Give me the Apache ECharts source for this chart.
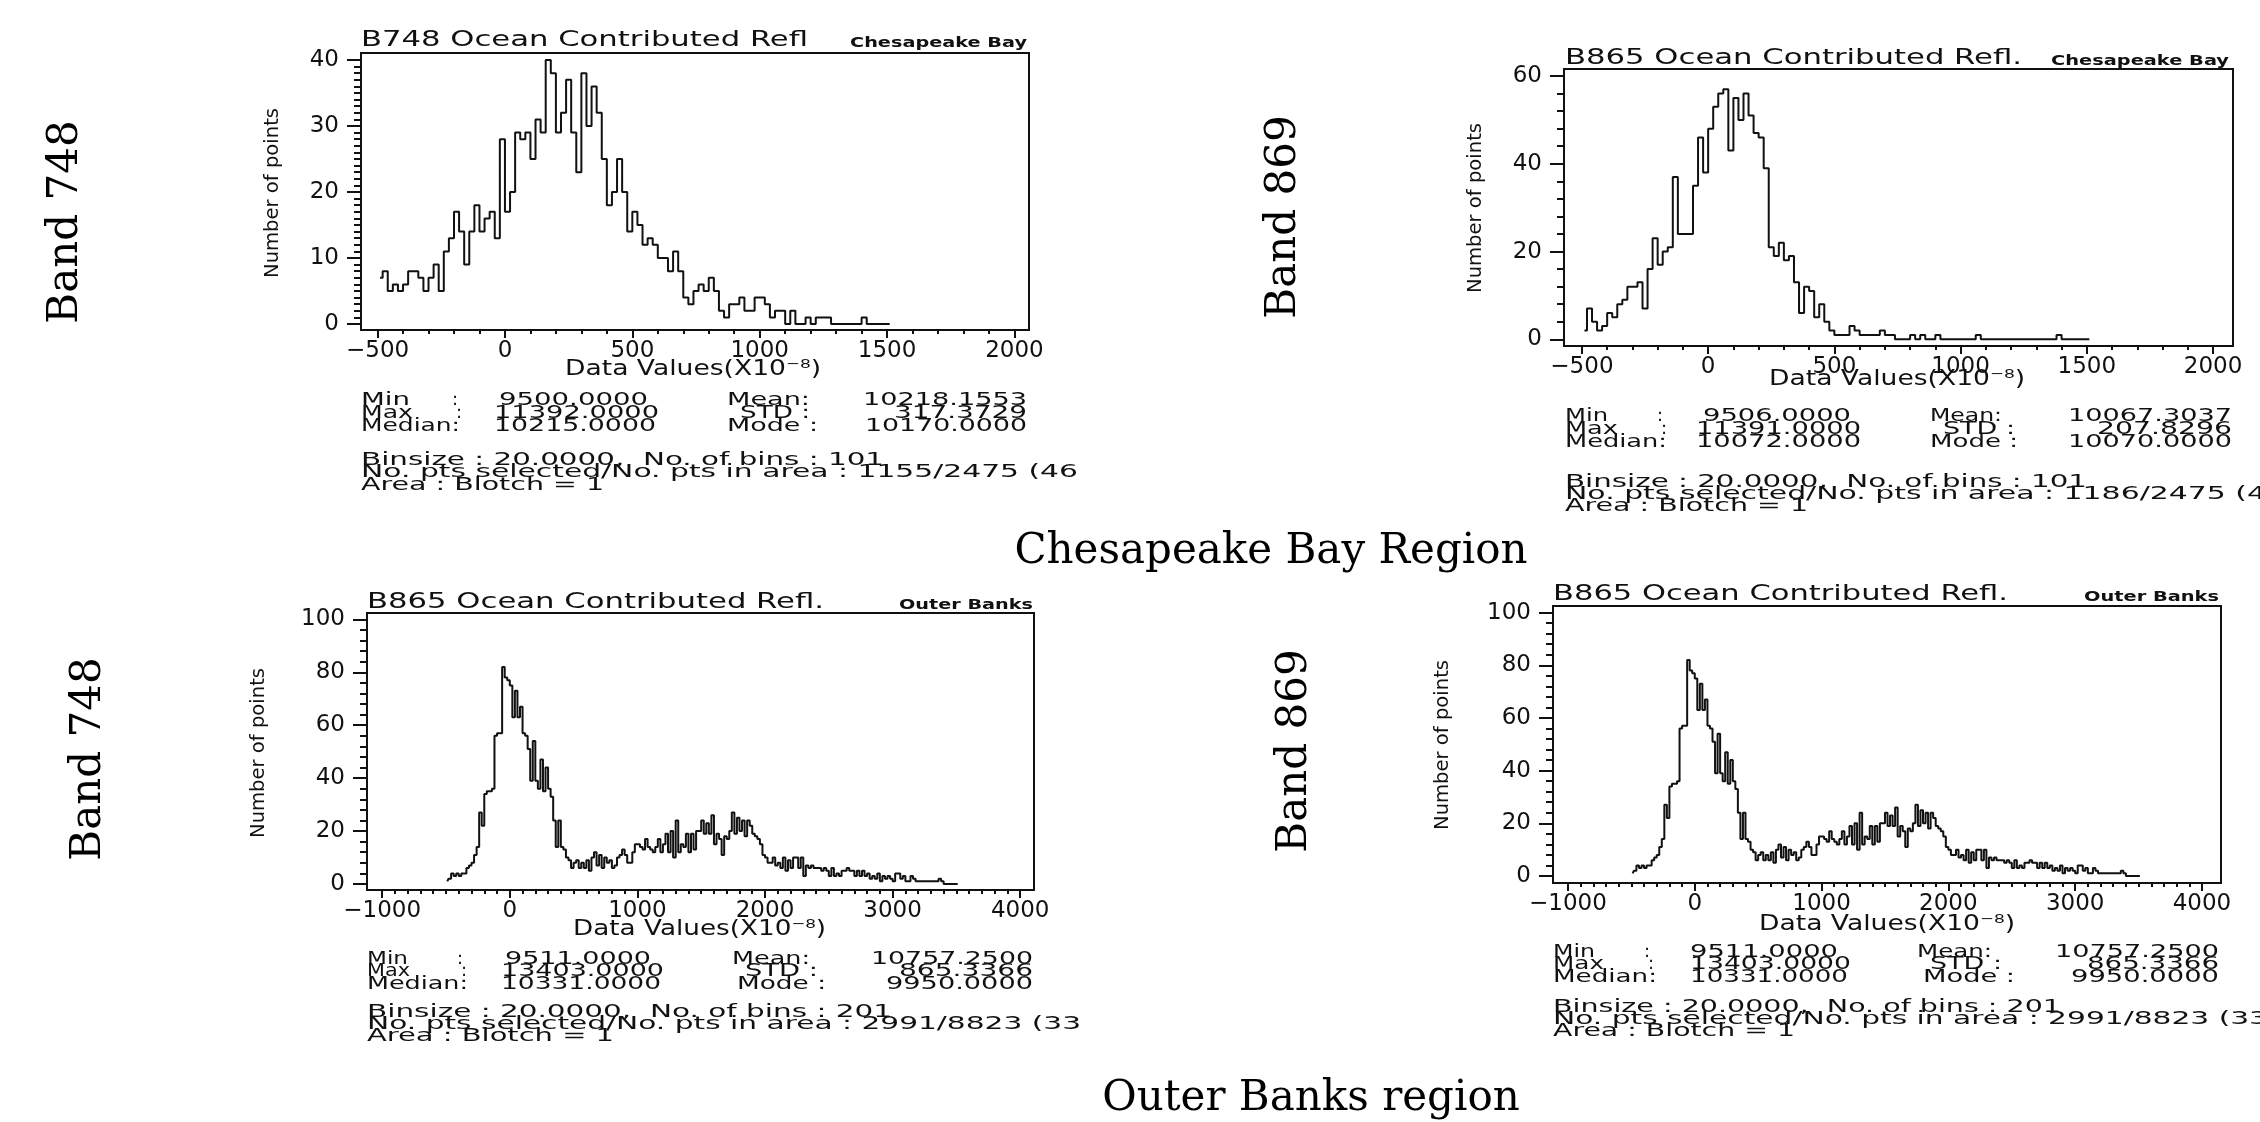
<!DOCTYPE html>
<html><head><meta charset="utf-8">
<script src="https://cdn.jsdelivr.net/npm/echarts@6/dist/echarts.min.js"></script>
<style>html,body{margin:0;padding:0;background:#fff}#c{width:2260px;height:1122px}</style>
</head><body><div id="c"></div>
<script>
// ---------------- data ----------------
const binSize = 20;                 // "Binsize : 20.0000"
const firstBinCentre = -490;        // first bin spans -500..-480

// Chesapeake Bay, B748 (101 bins)
const chesB748Counts = [
  7, 8, 5, 6, 5, 6, 8, 8, 7, 5, 7, 9, 5,
  11, 13, 17, 14, 9, 14, 18, 14, 16, 17, 13,
  28, 17, 20, 29, 28, 29, 25, 31, 29,
  40, 38, 29, 32, 37, 29, 23, 38, 30, 36, 32,
  25, 18, 20, 25, 20, 14, 17, 15, 12, 13, 12, 10, 10, 8, 11, 8,
  4, 3, 5, 6, 5, 7, 5, 2, 1, 3, 3, 4, 2, 2, 4, 4, 3, 1, 2, 2,
  0, 2, 0, 0, 1, 0, 1, 1, 1, 0, 0, 0, 0, 0, 0, 1, 0, 0, 0, 0, 0
];
// Chesapeake Bay, B865 (101 bins)
const chesB865Counts = [
  2, 7, 4, 2, 3, 6, 5, 8, 9, 12, 12, 13, 7, 16, 23, 17, 20, 21, 37, 24, 24, 24, 35, 46, 38,
  48, 53, 56, 57, 43, 55, 50, 56, 51, 47, 46, 39,
  21, 19, 22, 18, 19, 13, 6, 12, 11, 5, 8, 4, 2,
  1, 1, 1, 3, 2, 1, 1, 1, 1, 2,
  1, 1, 0, 0, 0, 1, 0, 1, 0, 0,
  1, 0, 0, 0, 0, 0, 0, 0, 1, 0,
  0, 0, 0, 0, 0, 0, 0, 0, 0, 0,
  0, 0, 0, 0, 1, 0, 0, 0, 0, 0,
  0
];
// Outer Banks, B865 (201 bins) - shown in both lower panels
const outerB865Counts = [
  1, 2, 4, 3, 4, 3, 4, 4, 6, 7,
  8, 11, 14, 27, 22, 34, 35, 35, 36, 56,
  57, 57, 82, 78, 77, 75, 63, 73, 63, 67,
  57, 56, 51, 39, 54, 39, 36, 47, 35, 44,
  36, 33, 24, 14, 24, 14, 13, 10, 9, 6,
  8, 9, 6, 8, 6, 9, 5, 10, 12, 7,
  11, 6, 10, 8, 9, 6, 7, 10, 11, 13,
  11, 8, 8, 12, 15, 15, 14, 13, 17, 14,
  13, 12, 14, 17, 12, 15, 19, 12, 20, 10,
  24, 12, 15, 14, 19, 12, 19, 13, 20, 20,
  24, 19, 23, 19, 26, 15, 19, 17, 11, 18,
  17, 20, 27, 19, 25, 20, 24, 18, 24, 22,
  19, 18, 17, 15, 11, 10, 8, 8, 10, 7,
  8, 6, 10, 5, 9, 6, 10, 10, 6, 10,
  3, 7, 6, 7, 6, 6, 6, 5, 6, 5,
  3, 6, 3, 4, 3, 5, 5, 6, 5, 5,
  3, 5, 3, 5, 3, 4, 2, 3, 2, 4,
  1, 3, 2, 3, 2, 1, 4, 4, 2, 3,
  1, 1, 3, 2, 1, 1, 1, 1, 1, 1,
  1, 1, 1, 2, 1, 0, 0, 0, 0, 0,
  0
];

// tick labels
const xTicksChes  = [-500, 0, 500, 1000, 1500, 2000];
const yTicksB748  = [0, 10, 20, 30, 40];
const yTicksB865c = [0, 20, 40, 60];
const xTicksOuter = [-1000, 0, 1000, 2000, 3000, 4000];
const yTicksOuter = [0, 20, 40, 60, 80, 100];

// ---------------- helpers ----------------
const INK = '#111';
const SANS = 'DejaVu Sans';
const SERIF = 'DejaVu Serif';
const TICKFONT = 23;
const STATFONT = 18;
const mctx = document.createElement('canvas').getContext('2d');
function measure(text, size, family, weight) {
  mctx.font = (weight || 'normal') + ' ' + size + 'px "' + family + '"';
  return mctx.measureText(text).width;
}
function seq(a, b, step) { const r = []; for (let v = a; v <= b + 1e-9; v += step) r.push(+v.toFixed(6)); return r; }
function pairs(counts) { return counts.map((c, i) => [firstBinCentre + i * binSize, c]); }
const fmt = v => (v < 0 ? '\u2212' + Math.abs(v) : String(v));

function xAxes(gi, min, max, major, minorStep) {
  return [
    { type: 'value', gridIndex: gi, min, max, position: 'bottom',
      axisLine: { show: false, onZero: false },
      splitLine: { show: false },
      axisTick: { show: true, customValues: major, length: 8, lineStyle: { color: INK, width: 2 } },
      axisLabel: { show: true, customValues: major, margin: 10, fontSize: TICKFONT, fontFamily: SANS, color: INK, formatter: fmt } },
    { type: 'value', gridIndex: gi, min, max, position: 'bottom',
      axisLine: { show: false, onZero: false }, splitLine: { show: false },
      axisTick: { show: true, customValues: seq(major[0], major[major.length - 1], minorStep), length: 4, lineStyle: { color: INK, width: 2 } },
      axisLabel: { show: false } }
  ];
}
function yAxes(gi, min, max, major, minorStep) {
  return [
    { type: 'value', gridIndex: gi, min, max, position: 'left',
      axisLine: { show: false, onZero: false }, splitLine: { show: false },
      axisTick: { show: true, customValues: major, length: 14, lineStyle: { color: INK, width: 2 } },
      axisLabel: { show: true, customValues: major, margin: 22, fontSize: TICKFONT, fontFamily: SANS, color: INK, formatter: fmt } },
    { type: 'value', gridIndex: gi, min, max, position: 'left',
      axisLine: { show: false, onZero: false }, splitLine: { show: false },
      axisTick: { show: true, customValues: seq(major[0], major[major.length - 1], minorStep), length: 7, lineStyle: { color: INK, width: 2 } },
      axisLabel: { show: false } }
  ];
}

// text that is stretched to span x1..x2 (IDL vector font is wide)
function fit(text, x1, x2, yc, size, weight) {
  const w = measure(text, size, SANS, weight);
  return { type: 'text', x: x1, y: yc, scaleX: (x2 - x1) / w, silent: true, z: 10,
    style: { text, fontSize: size, fontFamily: SANS, fontWeight: weight || 'normal', fill: INK,
      textAlign: 'left', textVerticalAlign: 'middle', align: 'left', verticalAlign: 'middle' } };
}
function centred(text, cx, yc, size) {
  return { type: 'text', x: cx, y: yc, silent: true, z: 10,
    style: { text, fontSize: size, fontFamily: SANS, fill: INK,
      textAlign: 'center', textVerticalAlign: 'middle', align: 'center', verticalAlign: 'middle' } };
}
function vfit(text, cx, cy, len, size) {
  const w = measure(text, size, SANS);
  return { type: 'text', x: cx, y: cy, rotation: Math.PI / 2, scaleX: len / w, silent: true, z: 10,
    style: { text, fontSize: size, fontFamily: SANS, fill: INK,
      textAlign: 'center', textVerticalAlign: 'middle', align: 'center', verticalAlign: 'middle' } };
}
function serif(text, cx, cy, rot) {
  return { type: 'text', x: cx, y: cy, rotation: rot || 0, silent: true, z: 10,
    style: { text, fontSize: 42, fontFamily: SERIF, fill: '#000',
      textAlign: 'center', textVerticalAlign: 'middle', align: 'center', verticalAlign: 'middle' } };
}
function statsBlock(s) {
  const out = [];
  const F = STATFONT;
  const [y1, y2, y3] = s.y;
  out.push(fit('Min', s.lab, s.lab + s.minW, y1, F));
  out.push(centred(':', s.colon, y1, F));
  out.push(fit(s.v[0], s.v1[0][0], s.v1[0][1], y1, F));
  out.push(fit('Mean:', s.l2[0][0], s.l2[0][1], y1, F));
  out.push(fit(s.v[1], s.v2[0], s.right, y1, F));
  out.push(fit('Max', s.lab, s.lab + s.maxW, y2, F));
  out.push(centred(':', s.colon + 4, y2, F));
  out.push(fit(s.v[2], s.v1[1][0], s.v1[1][1], y2, F));
  out.push(fit('STD :', s.l2[1][0], s.l2[1][1], y2, F));
  out.push(fit(s.v[3], s.v2[1], s.right, y2, F));
  out.push(fit('Median:', s.lab, s.medR, y3, F));
  out.push(fit(s.v[4], s.v1[2][0], s.v1[2][1], y3, F));
  out.push(fit('Mode :', s.l2[2][0], s.l2[2][1], y3, F));
  out.push(fit(s.v[5], s.v2[2], s.right, y3, F));
  return out;
}
function footBlock(x1, ys, texts, rights) {
  return texts.map((t, i) => fit(t, x1, rights[i], ys[i], STATFONT));
}

const BLACKLINE = { color: INK, width: 2 };
function histSeries(counts, ax) {
  return { type: 'line', step: 'middle', data: pairs(counts), xAxisIndex: ax, yAxisIndex: ax,
    symbol: 'none', showSymbol: false, lineStyle: BLACKLINE, itemStyle: { color: INK }, silent: true, z: 5 };
}

const gridBase = { show: true, borderColor: INK, borderWidth: 2, backgroundColor: 'rgba(0,0,0,0)', containLabel: false, outerBoundsMode: 'none' };

const option = {
  animation: false,
  backgroundColor: '#fff',
  grid: [
    Object.assign({ left: 361, top: 53, width: 668, height: 277 }, gridBase),
    Object.assign({ left: 1564, top: 69, width: 669, height: 277 }, gridBase),
    Object.assign({ left: 367, top: 613, width: 667, height: 277 }, gridBase),
    Object.assign({ left: 1553, top: 606, width: 668, height: 277 }, gridBase)
  ],
  xAxis: [].concat(
    xAxes(0, -565, 2057, xTicksChes, 100),
    xAxes(1, -571, 2079, xTicksChes, 100),
    xAxes(2, -1119, 4108, xTicksOuter, 100),
    xAxes(3, -1118, 4150, xTicksOuter, 100)
  ),
  yAxis: [].concat(
    yAxes(0, -0.91, 41.06, yTicksB748, 1),
    yAxes(1, -1.53, 61.6, yTicksB865c, 4),
    yAxes(2, -2.27, 102.4, yTicksOuter, 4),
    yAxes(3, -2.66, 102.5, yTicksOuter, 4)
  ),
  series: [
    histSeries(chesB748Counts, 0),
    histSeries(chesB865Counts, 2),
    histSeries(outerB865Counts, 4),
    histSeries(outerB865Counts, 6)
  ],
  graphic: { elements: [].concat(
    // --- panel 1 ---
    [fit('B748 Ocean Contributed Refl', 361, 808, 41, 21),
     fit('Chesapeake Bay', 850, 1027, 43, 14, 'bold'),
     fit('Data Values(X10\u207B\u2078)', 565, 821, 370, 21),
     vfit('Number of points', 273, 193, 170, 19)],
    statsBlock({ y: [400, 413, 426], lab: 361, minW: 49, maxW: 52, colon: 455, medR: 460,
      v: ['9500.0000', '10218.1553', '11392.0000', '317.3729', '10215.0000', '10170.0000'],
      v1: [[499, 648], [494, 659], [494, 656]],
      l2: [[727, 810], [740, 810], [727, 818]],
      v2: [863, 894, 865], right: 1027 }),
    footBlock(361, [460, 472, 485],
      ['Binsize : 20.0000,  No. of bins : 101', 'No. pts selected/No. pts in area : 1155/2475 (46', 'Area : Blotch = 1'],
      [884, 1078, 604]),
    // --- panel 2 ---
    [fit('B865 Ocean Contributed Refl.', 1565, 2022, 59, 21),
     fit('Chesapeake Bay', 2051, 2229, 61, 14, 'bold'),
     fit('Data Values(X10\u207B\u2078)', 1769, 2025, 380, 21),
     vfit('Number of points', 1476, 208, 170, 19)],
    statsBlock({ y: [416, 429, 442], lab: 1565, minW: 43, maxW: 53, colon: 1660, medR: 1667,
      v: ['9506.0000', '10067.3037', '11391.0000', '207.8296', '10072.0000', '10070.0000'],
      v1: [[1703, 1851], [1696, 1861], [1696, 1861]],
      l2: [[1930, 2002], [1943, 2015], [1930, 2018]],
      v2: [2068, 2097, 2068], right: 2232 }),
    footBlock(1565, [482, 494, 506],
      ['Binsize : 20.0000,  No. of bins : 101', 'No. pts selected/No. pts in area : 1186/2475 (4', 'Area : Blotch = 1'],
      [2087, 2266, 1808]),
    // --- panel 3 ---
    [fit('B865 Ocean Contributed Refl.', 367, 824, 603, 21),
     fit('Outer Banks', 899, 1033, 605, 14, 'bold'),
     fit('Data Values(X10\u207B\u2078)', 573, 826, 930, 21),
     vfit('Number of points', 259, 753, 170, 19)],
    statsBlock({ y: [959, 971, 984], lab: 367, minW: 41, maxW: 43, colon: 460, medR: 468,
      v: ['9511.0000', '10757.2500', '13403.0000', '865.3366', '10331.0000', '9950.0000'],
      v1: [[505, 651], [501, 664], [501, 661]],
      l2: [[732, 810], [745, 818], [737, 826]],
      v2: [871, 899, 886], right: 1033 }),
    footBlock(367, [1012, 1024, 1036],
      ['Binsize : 20.0000,  No. of bins : 201', 'No. pts selected/No. pts in area : 2991/8823 (33', 'Area : Blotch = 1'],
      [892, 1081, 614]),
    // --- panel 4 ---
    [fit('B865 Ocean Contributed Refl.', 1553, 2008, 595, 21),
     fit('Outer Banks', 2084, 2219, 597, 14, 'bold'),
     fit('Data Values(X10\u207B\u2078)', 1759, 2015, 925, 21),
     vfit('Number of points', 1443, 745, 170, 19)],
    statsBlock({ y: [952, 964, 977], lab: 1553, minW: 42, maxW: 51, colon: 1647, medR: 1657,
      v: ['9511.0000', '10757.2500', '13403.0000', '865.3366', '10331.0000', '9950.0000'],
      v1: [[1690, 1838], [1690, 1851], [1690, 1848]],
      l2: [[1917, 1992], [1930, 2002], [1923, 2015]],
      v2: [2055, 2087, 2071], right: 2219 }),
    footBlock(1553, [1007, 1019, 1031],
      ['Binsize : 20.0000,  No. of bins : 201', 'No. pts selected/No. pts in area : 2991/8823 (33', 'Area : Blotch = 1'],
      [2061, 2268, 1795]),
    // --- figure labels ---
    [serif('Band 748', 66, 222, Math.PI / 2),
     serif('Band 869', 1284, 217, Math.PI / 2),
     serif('Band 748', 89, 759, Math.PI / 2),
     serif('Band 869', 1295, 751, Math.PI / 2),
     serif('Chesapeake Bay Region', 1271, 552),
     serif('Outer Banks region', 1311, 1099)]
  ) }
};

const chart = echarts.init(document.getElementById('c'), null, { renderer: 'canvas', width: 2260, height: 1122 });
chart.setOption(option);
</script>
</body></html>
